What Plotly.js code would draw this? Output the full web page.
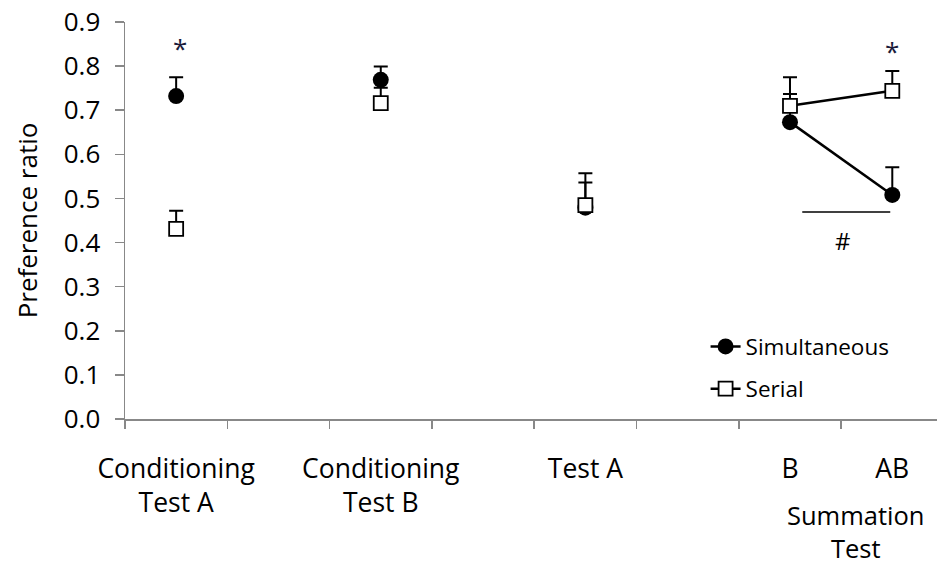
<!DOCTYPE html>
<html>
<head>
<meta charset="utf-8">
<script src="https://cdn.plot.ly/plotly-3.0.1.min.js"></script>
<style>html,body{margin:0;padding:0;background:#fff;}#chart{width:937px;height:567px;}</style>
</head>
<body>
<div id="chart"></div>
<script>
// Category labels and the slot each occupies on the 8-slot axis
const categories = ["Conditioning<br>Test A", "Conditioning<br>Test B", "Test A", "B", "AB"];
const slots = [1, 3, 5, 7, 8];
const boundaryTicks = [0.5, 1.5, 2.5, 3.5, 4.5, 5.5, 6.5, 7.5];

// Series values (preference ratio) and upper error (SEM)
const simultaneous = [0.732, 0.769, 0.479, 0.673, 0.508];
const simultaneousErr = [0.043, 0.030, 0.057, 0.064, 0.063];
const serial = [0.431, 0.716, 0.485, 0.710, 0.744];
const serialErr = [0.041, 0.035, 0.072, 0.065, 0.045];

const yTicks = [0, 0.1, 0.2, 0.3, 0.4, 0.5, 0.6, 0.7, 0.8, 0.9];

// Insert gaps so that only adjacent slots are joined by a line
function withGaps(xs, ys, es) {
  const X = [], Y = [], E = [], Z = [];
  for (let i = 0; i < xs.length; i++) {
    if (i > 0 && xs[i] - xs[i - 1] > 1) { X.push(xs[i] - 1); Y.push(null); E.push(null); Z.push(null); }
    X.push(xs[i]); Y.push(ys[i]); E.push(es[i]); Z.push(0);
  }
  return {X, Y, E, Z};
}
const s1 = withGaps(slots, simultaneous, simultaneousErr);
const s2 = withGaps(slots, serial, serialErr);

const font = "'Open Sans', 'Noto Sans', sans-serif";

const traces = [
  {
    x: s1.X, y: s1.Y, name: "Simultaneous", type: "scatter", mode: "lines+markers",
    connectgaps: false, legendgroup: "a",
    line: {color: "#000", width: 2.5},
    marker: {symbol: "circle", size: 16, color: "#000"},
    error_y: {type: "data", symmetric: false, array: s1.E, arrayminus: s1.Z, color: "#000", thickness: 2, width: 7}
  },
  {
    x: s2.X, y: s2.Y, name: "Serial", type: "scatter", mode: "lines+markers",
    connectgaps: false, legendgroup: "b",
    line: {color: "#000", width: 2.5},
    marker: {symbol: "square", size: 14, color: "#fff", line: {color: "#000", width: 1.8}},
    error_y: {type: "data", symmetric: false, array: s2.E, arrayminus: s2.Z, color: "#000", thickness: 2, width: 7}
  },
  {
    // carrier for the category-label axis (draws nothing)
    x: slots, y: slots.map(() => 0), xaxis: "x2", yaxis: "y", type: "scatter", mode: "markers",
    marker: {opacity: 0, size: 1}, showlegend: false, hoverinfo: "skip"
  }
];

const layout = {
  width: 937, height: 567,
  margin: {l: 125, r: 0, t: 22, b: 148},
  paper_bgcolor: "#fff", plot_bgcolor: "#fff",
  font: {family: font, color: "#000"},
  showlegend: true,
  legend: {
    x: 0.715, y: 0.236, xanchor: "left", yanchor: "top",
    font: {family: font, size: 22.5, color: "#000"},
    bgcolor: "rgba(0,0,0,0)", traceorder: "grouped", tracegroupgap: 10
  },
  xaxis: {
    range: [0.5, 8.437], showgrid: false, zeroline: false,
    showline: true, linecolor: "#888", linewidth: 1.5,
    tickmode: "array", tickvals: boundaryTicks, ticks: "outside", ticklen: 8,
    tickcolor: "#888", tickwidth: 1.5, showticklabels: false, fixedrange: true
  },
  xaxis2: {
    overlaying: "x", anchor: "y", side: "bottom",
    range: [0.5, 8.437], showgrid: false, zeroline: false, showline: false,
    tickmode: "array", tickvals: slots, ticktext: categories, ticks: "",
    ticklabelstandoff: 31,
    tickfont: {family: font, size: 26.5, color: "#000"}
  },
  yaxis: {
    range: [0, 0.9], showgrid: false, zeroline: false,
    showline: true, linecolor: "#888", linewidth: 1.5,
    tickmode: "array", tickvals: yTicks, tickformat: ".1f",
    ticks: "outside", ticklen: 9, tickcolor: "#888", tickwidth: 1.5,
    ticklabelstandoff: 9,
    tickfont: {family: font, size: 26, color: "#000"},
    title: {text: "Preference ratio", font: {family: font, size: 26, color: "#000"}, standoff: 18}
  },
  shapes: [
    {type: "line", xref: "x", yref: "y", x0: 7.12, x1: 7.98, y0: 0.469, y1: 0.469, line: {color: "#000", width: 1.5}}
  ],
  annotations: [
    {x: 1.04, y: 0.84, xref: "x", yref: "y", text: "*", showarrow: false, font: {family: font, size: 26, color: "#1a1a3a"}},
    {x: 8.0, y: 0.835, xref: "x", yref: "y", text: "*", showarrow: false, font: {family: font, size: 26, color: "#1a1a3a"}},
    {x: 7.52, y: 0.405, xref: "x", yref: "y", text: "#", showarrow: false, font: {family: font, size: 24, color: "#000"}},
    {x: 7.65, y: 0, xref: "x", yref: "y", yanchor: "top", yshift: -77, text: "Summation<br>Test", showarrow: false,
     font: {family: font, size: 25.5, color: "#000"}}
  ]
};

Plotly.newPlot("chart", traces, layout, {displayModeBar: false, staticPlot: true});
</script>
</body>
</html>
